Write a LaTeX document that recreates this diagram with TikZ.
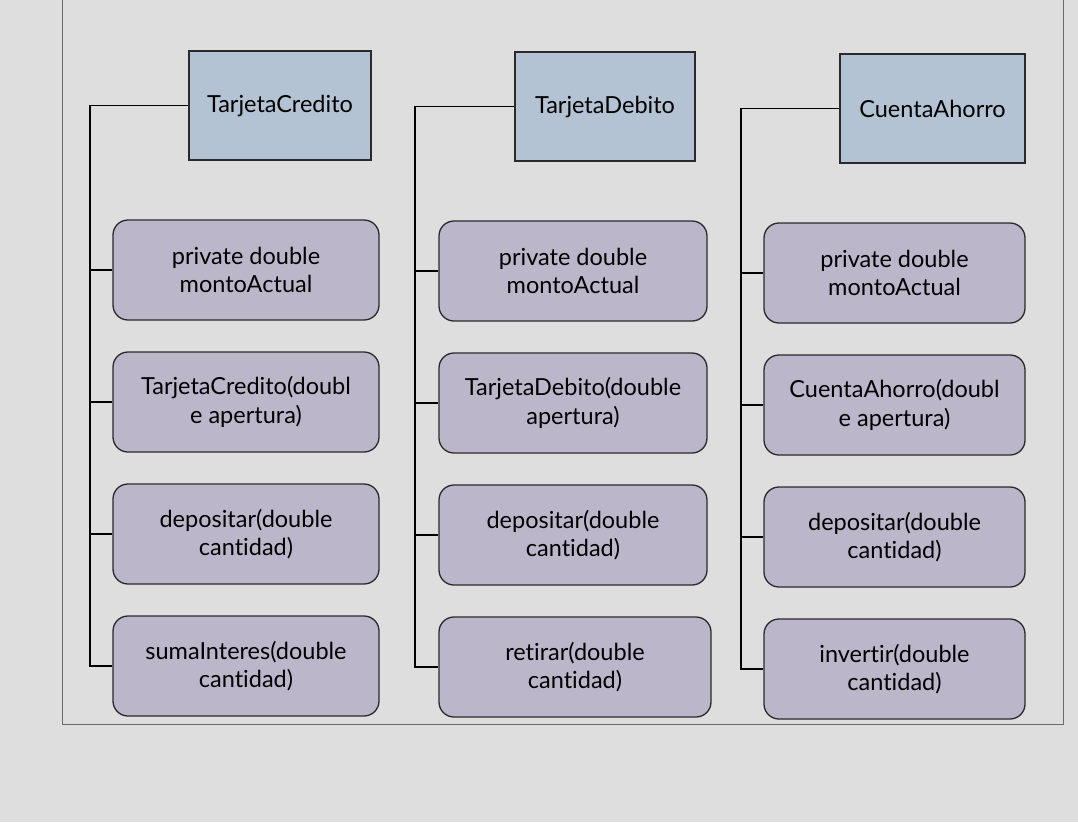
\documentclass[tikz,border=0pt]{standalone}
\usepackage{fontspec}
\setmainfont{Lato}[Ligatures=NoCommon]
\definecolor{bg}{HTML}{DEDEDE}
\definecolor{hdr}{HTML}{B3C3D3}
\definecolor{mem}{HTML}{BCB6CB}
\definecolor{edge}{HTML}{2A2A2A}
\definecolor{frame}{HTML}{6A6A6A}
\tikzset{
  hdrbox/.style={draw=edge, line width=1.3pt, fill=hdr, rectangle, minimum height=109pt, inner sep=0pt, align=center, font=\fontsize{23.5}{28}\selectfont},
  membox/.style={draw=edge, line width=1.3pt, fill=mem, rectangle, rounded corners=15pt, minimum height=100pt, inner sep=0pt, align=center, font=\fontsize{23.5}{28.5}\selectfont},
  conn/.style={draw=black, line width=1.4pt},
}
\begin{document}
\begin{tikzpicture}[x=1pt,y=-1pt]
\useasboundingbox[fill=bg] (0,0) rectangle (1078,822);
\draw[frame, line width=1pt] (62,-2) -- (62,724) -- (1063,724) -- (1063,-2);
% column 1
\node[hdrbox, minimum width=182pt] (h1) at (280,105.5) {TarjetaCredito};
\node[membox, minimum width=266pt] (b11) at (246,270) {private double\\montoActual};
\node[membox, minimum width=266pt] (b12) at (246,402) {TarjetaCredito(doubl\\e apertura)};
\node[membox, minimum width=266pt] (b13) at (246,534) {depositar(double\\cantidad)};
\node[membox, minimum width=266pt] (b14) at (246,666) {sumaInteres(double\\cantidad)};
\coordinate (s1) at (90,666);
\draw[conn] (h1.west) -| (s1) -- (b14.west);
\draw[conn] (b11.west) -- (b11.west -| s1);
\draw[conn] (b12.west) -- (b12.west -| s1);
\draw[conn] (b13.west) -- (b13.west -| s1);
% column 2
\node[hdrbox, minimum width=180pt] (h2) at (605,106.5) {TarjetaDebito};
\node[membox, minimum width=268pt] (b21) at (573,271) {private double\\montoActual};
\node[membox, minimum width=268pt] (b22) at (573,403) {TarjetaDebito(double\\apertura)};
\node[membox, minimum width=268pt] (b23) at (573,535) {depositar(double\\cantidad)};
\node[membox, minimum width=272pt] (b24) at (575,667) {retirar(double\\cantidad)};
\coordinate (s2) at (415,667);
\draw[conn] (h2.west) -| (s2) -- (b24.west);
\draw[conn] (b21.west) -- (b21.west -| s2);
\draw[conn] (b22.west) -- (b22.west -| s2);
\draw[conn] (b23.west) -- (b23.west -| s2);
% column 3
\node[hdrbox, minimum width=185pt] (h3) at (932.5,108.5) {CuentaAhorro};
\node[membox, minimum width=261pt] (b31) at (894.5,273) {private double\\montoActual};
\node[membox, minimum width=261pt] (b32) at (894.5,405) {CuentaAhorro(doubl\\e apertura)};
\node[membox, minimum width=261pt] (b33) at (894.5,537) {depositar(double\\cantidad)};
\node[membox, minimum width=261pt] (b34) at (894.5,669) {invertir(double\\cantidad)};
\coordinate (s3) at (741,669);
\draw[conn] (h3.west) -| (s3) -- (b34.west);
\draw[conn] (b31.west) -- (b31.west -| s3);
\draw[conn] (b32.west) -- (b32.west -| s3);
\draw[conn] (b33.west) -- (b33.west -| s3);
\end{tikzpicture}
\end{document}
